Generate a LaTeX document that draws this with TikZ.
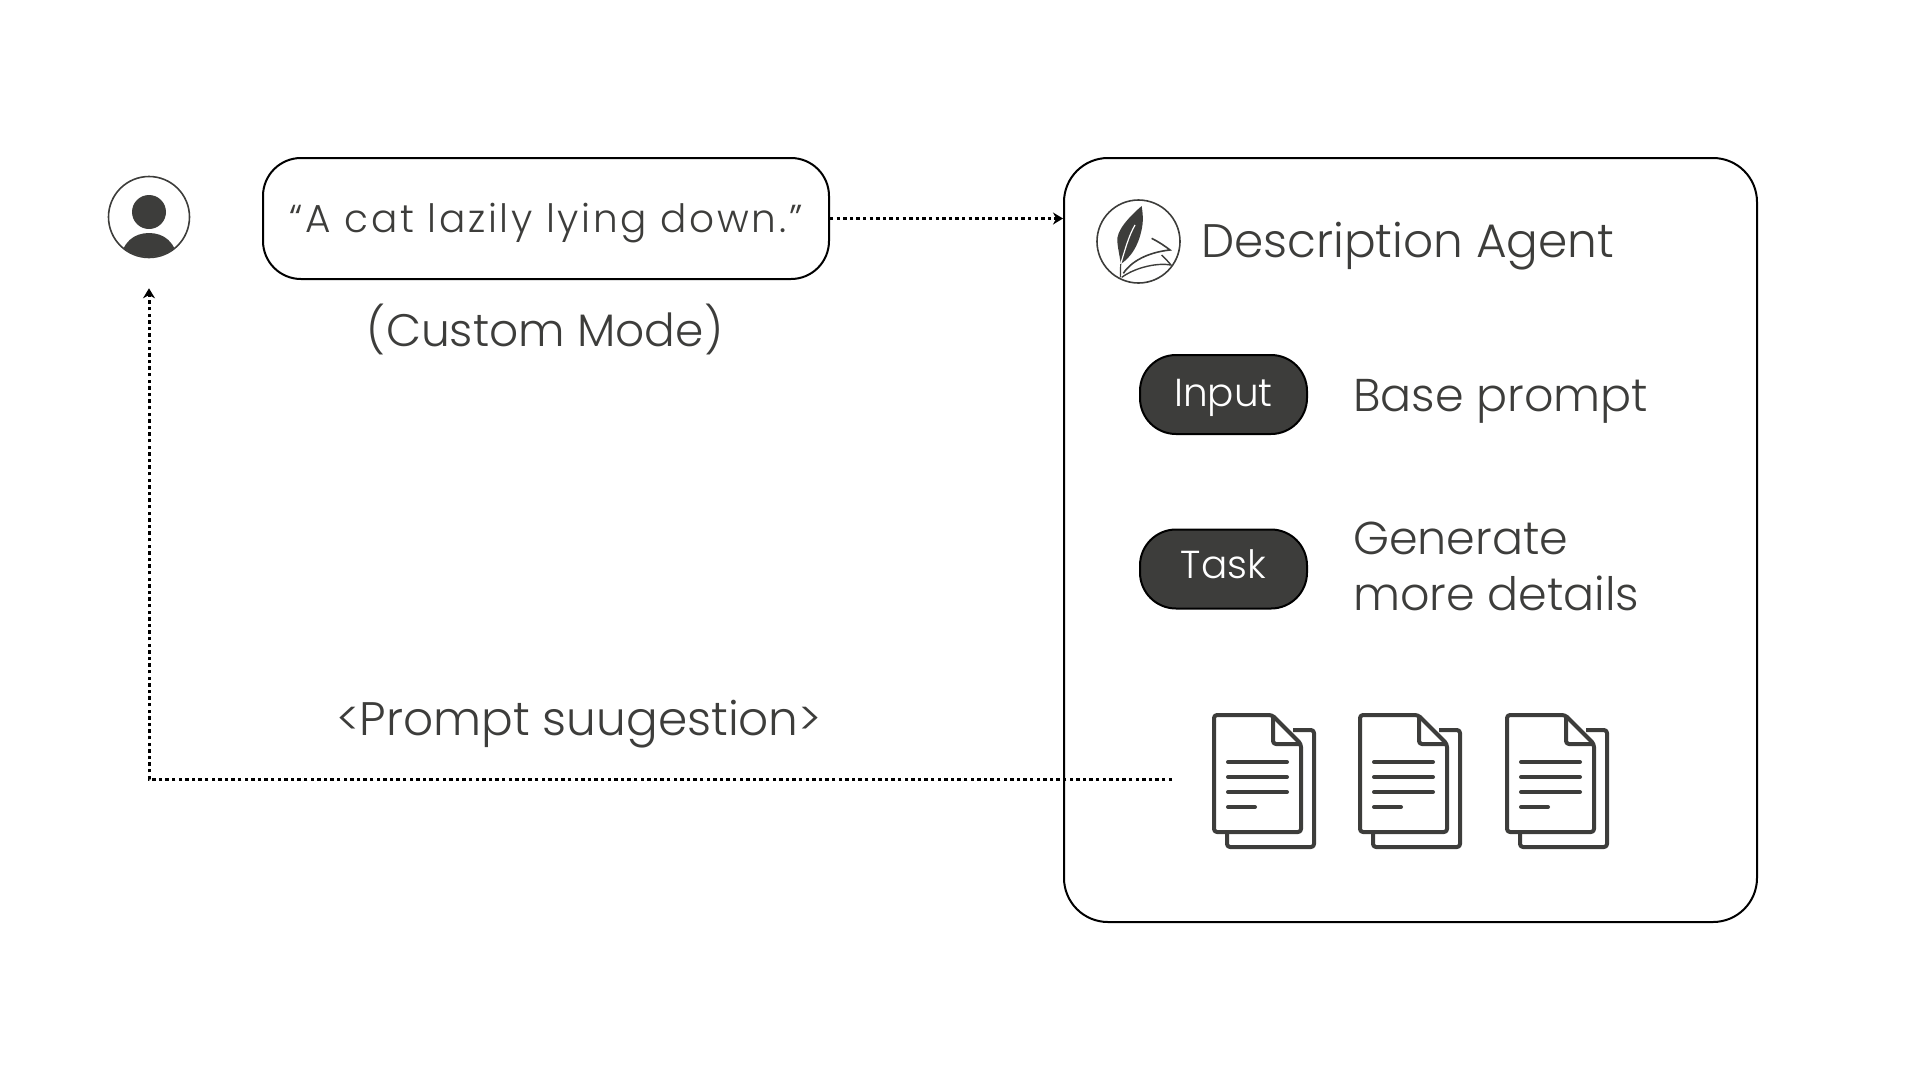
\documentclass[tikz,border=0pt]{standalone}
\usepackage{fontspec}
\setmainfont{Poppins}[UprightFont=* Light,ItalicFont=* Light Italic]
\newfontfamily\handfont{Poppins}[UprightFont=* Light,LetterSpace=7]
\usepackage{tikz}
\usetikzlibrary{arrows.meta,calc,positioning}
\definecolor{ink}{HTML}{3D3D3B}
\tikzset{st/.style={draw=black,line width=2pt,rounded corners=38pt,inner sep=0pt}}
\tikzset{lbl/.style={text=ink,inner sep=0pt,anchor=base west,font=\fontsize{46}{54}\selectfont}}
\tikzstyle{tag}=[st, fill=ink, text=white, rounded corners=36pt, minimum width=167pt, minimum height=79pt, text height=24pt, text depth=0pt, font=\fontsize{39}{44}\selectfont]
\tikzstyle{dotline}=[line width=3pt, dash pattern=on 3.4pt off 3.2pt]
\tikzstyle{sheet}=[draw=ink, line width=4pt, rounded corners=3pt, line join=round]
\newcommand{\docstack}[1]{
\begin{scope}[shift={(#1,713)}]
\draw[sheet] (81,17) -- (102,17) -- (102,134) -- (15,134) -- (15,119);
\draw[sheet,fill=white] (2,2) -- (60,2) -- (89,31) -- (89,119) -- (2,119) -- cycle;
\draw[sheet] (61,2) -- (61,31) -- (89,31);
\draw[sheet,line cap=round,rounded corners=0pt] (16,49) -- (75,49) (16,64) -- (75,64) (16,79) -- (75,79) (16,94) -- (43,94);
\end{scope}}

\begin{document}
\begin{tikzpicture}[x=1pt,y=-1pt,>={Stealth[length=10pt,width=12pt]}]
\useasboundingbox (0,0) rectangle (1920,1080);

\node[st, minimum width=566pt, minimum height=121pt] (quote) at (546,218.5) {};
\node[text=ink, inner sep=0pt, font=\handfont\fontsize{39}{44}\selectfont] (quotetext) at (546,223) {“A cat lazily lying down.”};
\node[lbl, anchor=center, font=\fontsize{45.5}{54}\selectfont] (mode) at (545,329) {(Custom Mode)};

\node[draw=ink, circle, line width=1.6pt, inner sep=0pt, minimum size=81pt] (user) at (149,217) {};
\fill[ink] (149,212) circle (17pt);
\begin{scope}
\clip (user.center) circle (40pt);
\fill[ink] (120,262) .. controls (122,242) and (134,233) .. (149,233) .. controls (164,233) and (176,242) .. (178,262) -- cycle;
\end{scope}

\node[st, rounded corners=44pt, minimum width=693pt, minimum height=764pt] (agent) at (1410.5,540) {};

\node[draw=ink, circle, line width=1.6pt, inner sep=0pt, minimum size=83pt] (logo) at (1138.5,241.5) {};
\begin{scope}[shift={(1090,190)},x=0.3333pt,y=-0.3333pt]
\fill[ink] (155,48) .. controls (112,85) and (78,125) .. (82,155) .. controls (84,180) and (90,200) .. (92,222) .. controls (120,205) and (150,165) .. (158,100) .. controls (160,80) and (157,62) .. (155,48) -- cycle;
\draw[white,line width=1.2pt] (92,222) .. controls (105,180) and (115,140) .. (135,105);
\draw[ink,line width=1.2pt] (92,222) -- (91,262);
\draw[ink,line width=1.6pt] (185,145) .. controls (205,155) and (225,168) .. (240,180) .. controls (190,185) and (130,205) .. (100,250);
\draw[ink,line width=1.4pt] (215,195) .. controls (225,205) and (235,215) .. (243,225) .. controls (205,218) and (140,230) .. (95,262);
\end{scope}
\node[lbl, font=\fontsize{47}{54}\selectfont] (agentname) at (1201,257) {Description Agent};

\node[tag] (inp) at (1223.5,394.5) {Input};
\node[lbl, anchor=base west] (inptext) at (1353,411) {Base prompt};
\node[tag, text height=19pt] (task) at (1223.5,569) {Task};
\node[lbl, anchor=west, align=left, font=\fontsize{46}{56}\selectfont] (tasktext) at (1353,566) {Generate\\more details};

\docstack{1212}
\docstack{1358}
\docstack{1505}

\node[lbl, anchor=base, font=\fontsize{47}{54}\selectfont] (sugg) at (579,735) {<Prompt suugestion>};
\coordinate (fb) at (1172,779);

\path[->,dotline] (quote) edge (quote -| agent.west);
\draw[->,dotline,shorten >=30pt] (fb) -| (user);
\end{tikzpicture}
\end{document}
